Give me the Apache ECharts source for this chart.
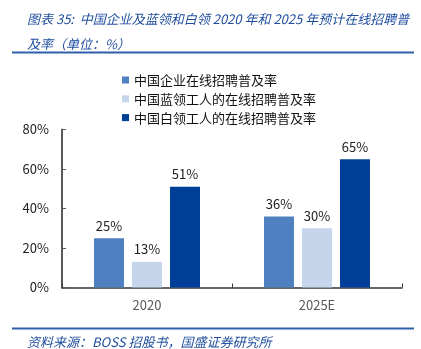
<!DOCTYPE html>
<html>
<head>
<meta charset="utf-8">
<script src="https://cdn.jsdelivr.net/npm/echarts@6/dist/echarts.min.js"></script>
<style>
html,body{margin:0;padding:0;background:#fff;}
#c{width:421px;height:349px;}
</style>
</head>
<body>
<div id="c"></div>
<script>
var categories = ['2020', '2025E'];
var seriesNames = ['中国企业在线招聘普及率', '中国蓝领工人的在线招聘普及率', '中国白领工人的在线招聘普及率'];
var enterpriseValues = [25, 36];
var blueCollarValues = [13, 30];
var whiteCollarValues = [51, 65];
var yTicks = [0, 20, 40, 60, 80];
var titleText = '图表 35:  中国企业及蓝领和白领 2020 年和 2025 年预计在线招聘普\n及率（单位：%）';
var sourceText = '资料来源：BOSS 招股书，国盛证券研究所';

var colors = ['#4F81C2', '#C4D5EC', '#003F98'];
var font = '"Noto Sans CJK SC", "Microsoft YaHei", sans-serif';
var chart = echarts.init(document.getElementById('c'), null, {renderer: 'canvas'});

function mk(name, data, color) {
  return {
    name: name, type: 'bar', data: data,
    barWidth: 30, barGap: '26.7%',
    itemStyle: {color: color},
    label: {show: true, position: 'top', distance: 6, formatter: '{c}%',
      fontFamily: font, fontSize: 13, color: '#222'}
  };
}

chart.setOption({
  animation: false,
  backgroundColor: '#fff',
  title: [{
    text: titleText, left: 22, top: 2,
    textStyle: {fontFamily: font, fontSize: 13, fontStyle: 'italic', fontWeight: 'normal',
      color: '#1F4E9E', lineHeight: 25}
  }, {
    text: sourceText, left: 22, top: 329,
    textStyle: {fontFamily: font, fontSize: 13, fontStyle: 'italic', fontWeight: 'normal',
      color: '#1F4E9E', lineHeight: 16}
  }],
  graphic: [
    {type: 'line', shape: {x1: 12, y1: 52.5, x2: 414, y2: 52.5}, style: {stroke: '#2E5FA8', lineWidth: 2}},
    {type: 'line', shape: {x1: 12, y1: 328.5, x2: 414, y2: 328.5}, style: {stroke: '#2E5FA8', lineWidth: 2}}
  ],
  legend: {
    orient: 'vertical', left: 117, top: 67,
    itemWidth: 7, itemHeight: 7, itemGap: 2.8,
    icon: 'rect',
    textStyle: {fontFamily: font, fontSize: 13, color: '#111', lineHeight: 16},
    data: seriesNames
  },
  grid: {left: 62, right: 19, top: 129.5, bottom: 61.5, containLabel: false},
  xAxis: {
    type: 'category', data: categories,
    axisLine: {lineStyle: {color: '#333', width: 1.5}},
    axisTick: {show: true, inside: true, length: 4, alignWithLabel: false, lineStyle: {color: '#333'}},
    axisLabel: {fontFamily: font, fontSize: 13, color: '#595959', margin: 11}
  },
  yAxis: {
    type: 'value', min: yTicks[0], max: yTicks[yTicks.length - 1], interval: 20,
    axisLine: {show: true, lineStyle: {color: '#595959', width: 2}},
    axisTick: {show: true, inside: true, length: 4, lineStyle: {color: '#595959'}},
    splitLine: {show: false},
    axisLabel: {fontFamily: font, fontSize: 13, color: '#222', margin: 13, formatter: '{value}%'}
  },
  series: [
    mk(seriesNames[0], enterpriseValues, colors[0]),
    mk(seriesNames[1], blueCollarValues, colors[1]),
    mk(seriesNames[2], whiteCollarValues, colors[2])
  ]
});
</script>
</body>
</html>
